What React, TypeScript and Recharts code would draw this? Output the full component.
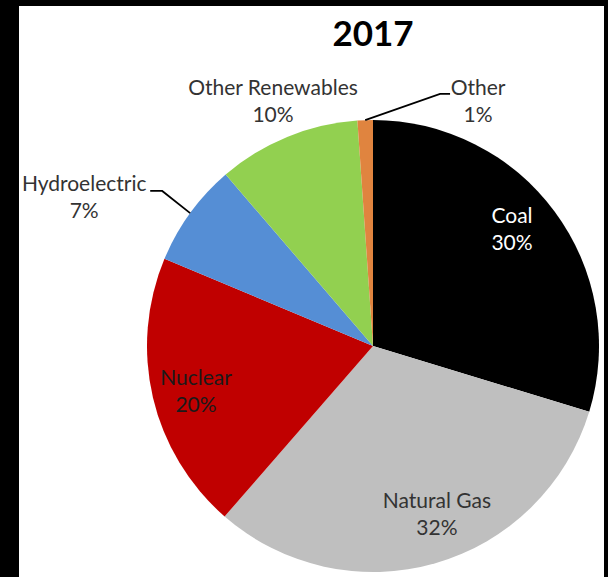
import { PieChart, Pie, Cell } from 'recharts';

const categories = ['Coal', 'Natural Gas', 'Nuclear', 'Hydroelectric', 'Other Renewables', 'Other'];
const shares = [29.7, 31.7, 19.9, 7.4, 10.2, 1.1];
const sliceColors = ['#000000', '#BFBFBF', '#C00000', '#558ED5', '#92D050', '#E0843F'];

const data = categories.map((name, i) => ({ name, value: shares[i] }));

const W = 608;
const H = 577;
const CX = 373;
const CY = 346;
const R = 226;
const FONT = 'Lato, "Open Sans", sans-serif';

// label placement: r = fraction of radius, angle = clockwise from 12 o'clock (defaults to slice middle)
type Leader = { ex: number; hx: number; dy: number };
type Placement = { r: number; angle?: number; leader?: Leader; color?: string };
const placements: Record<string, Placement> = {
  Coal: { r: 0.804, angle: 49.9, color: '#FFFFFF' },
  'Natural Gas': { r: 0.796, angle: 159.2 },
  Nuclear: { r: 0.808, angle: 255.7, color: '#1a1a1a' },
  Hydroelectric: { r: 1.438, angle: 297.3, leader: { ex: 78, hx: 66, dy: -6 } },
  'Other Renewables': { r: 1.171, angle: 337.8 },
  Other: { r: 1.18, angle: 23.2, leader: { ex: -38, hx: -28, dy: -7 } },
};

const polar = (cx: number, cy: number, r: number, deg: number) => {
  const a = (deg * Math.PI) / 180;
  return { x: cx + r * Math.sin(a), y: cy - r * Math.cos(a) };
};

function SliceLabel(props: any) {
  const { cx, cy, outerRadius, midAngle, name, percent } = props;
  const p = placements[name] ?? { r: 0.8 };
  const mid = 90 - midAngle;
  const pos = polar(cx, cy, outerRadius * p.r, p.angle ?? mid);
  const pct = `${Math.round(percent * 100)}%`;
  let line = null;
  if (p.leader) {
    const edge = polar(cx, cy, outerRadius, mid);
    const ey = pos.y + p.leader.dy;
    line = (
      <polyline
        points={`${edge.x},${edge.y} ${pos.x + p.leader.ex},${ey} ${pos.x + p.leader.hx},${ey}`}
        fill="none"
        stroke="#000"
        strokeWidth={1.8}
      />
    );
  }
  return (
    <g>
      {line}
      <text
        x={pos.x}
        y={pos.y}
        textAnchor="middle"
        fontFamily={FONT}
        fontSize={21}
        fill={p.color ?? '#333333'}
      >
        <tspan x={pos.x} y={pos.y - 6}>{name}</tspan>
        <tspan x={pos.x} y={pos.y + 21}>{pct}</tspan>
      </text>
    </g>
  );
}

export default function App() {
  return (
    <div style={{ position: 'absolute', left: 0, top: 0, width: W, height: H, background: '#000' }}>
      <div style={{ position: 'absolute', left: 19, top: 6, width: 585, height: 571, background: '#fff' }} />
      <div style={{ position: 'absolute', left: 0, top: 0 }}>
        <PieChart width={W} height={H} margin={{ top: 0, right: 0, bottom: 0, left: 0 }}>
          <text x={CX} y={46} textAnchor="middle" fontFamily={FONT} fontWeight={700} fontSize={35} fill="#000">
            2017
          </text>
          <Pie
            data={data}
            dataKey="value"
            nameKey="name"
            cx={CX}
            cy={CY}
            outerRadius={R}
            startAngle={90}
            endAngle={-270}
            stroke="none"
            label={SliceLabel}
            labelLine={false}
            isAnimationActive={false}
          >
            {data.map((_, i) => (
              <Cell key={`cell-${i}`} fill={sliceColors[i]} />
            ))}
          </Pie>
        </PieChart>
      </div>
    </div>
  );
}
